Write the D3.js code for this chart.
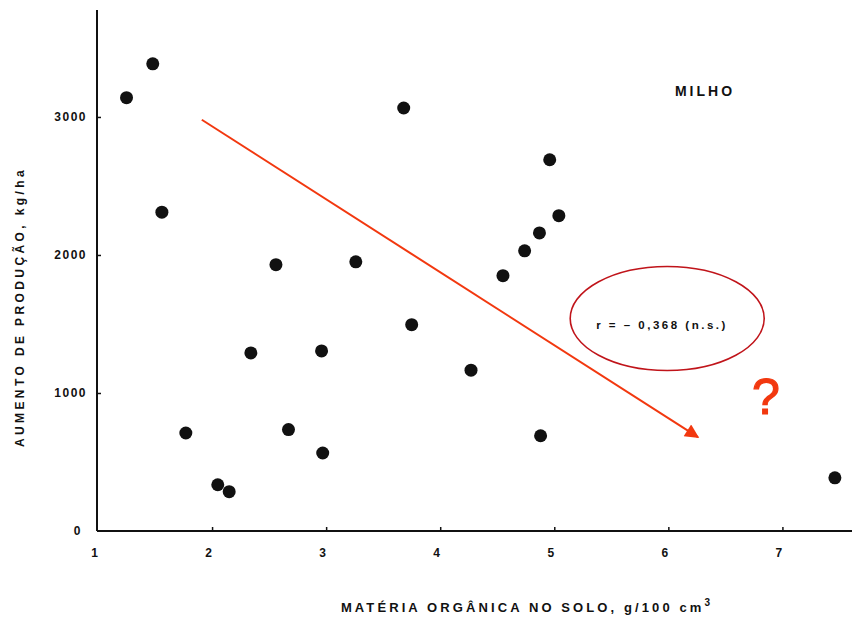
<!DOCTYPE html>
<html>
<head>
<meta charset="utf-8">
<script src="https://cdn.jsdelivr.net/npm/d3@7"></script>
<style>
  html, body { margin: 0; padding: 0; background: #fff; }
  svg { display: block; }
  text { font-family: "Liberation Sans", Arial, sans-serif; font-weight: bold; fill: #111; }
</style>
</head>
<body>
<svg id="chart" width="852" height="617"></svg>
<script>
// Organic matter in soil (g/100 cm3) vs. yield increase (kg/ha), maize
const materiaOrganica = [1.25, 1.48, 1.56, 1.77, 2.05, 2.15, 2.34, 2.56, 2.67, 2.96, 2.97, 3.26, 3.68, 3.75, 4.27, 4.55, 4.74, 4.87, 4.88, 4.96, 5.04, 7.46];
const aumentoProducao = [3140, 3385, 2310, 710, 335, 285, 1290, 1930, 735, 1305, 565, 1950, 3065, 1495, 1165, 1850, 2030, 2160, 690, 2690, 2285, 385];
const xTicks = [1, 2, 3, 4, 5, 6, 7];
const yTicks = [0, 1000, 2000, 3000];
// Trend arrow endpoints (x, y in data units)
const setaInicio = [1.91, 2980];
const setaFim = [6.26, 680];
// Annotation ellipse centre (data units)
const elipseCentro = [5.99, 1540];
const rotuloR = "r = \u2013 0,368 (n.s.)";

const svg = d3.select("#chart");
const x = d3.scaleLinear().domain([1, 7.61]).range([98, 852]);
const y = d3.scaleLinear().domain([0, 3775]).range([531, 10]);

// Axes
svg.append("line").attr("x1", 97).attr("x2", 97).attr("y1", y(3775)).attr("y2", y(0))
  .attr("stroke", "#111").attr("stroke-width", 2);
svg.append("line").attr("x1", 97).attr("x2", 852).attr("y1", y(0)).attr("y2", y(0))
  .attr("stroke", "#111").attr("stroke-width", 2);

const yAxis = d3.axisLeft(y).tickValues(yTicks).tickSize(-4).tickPadding(9).tickFormat(d3.format("d"));
const gy = svg.append("g").attr("transform", "translate(97,0)").call(yAxis);
gy.select(".domain").remove();
gy.selectAll(".tick line").attr("stroke", "#111").attr("stroke-width", 1.5)
  .attr("display", d => d === 0 ? "none" : null);
gy.selectAll(".tick text").attr("font-size", 12).attr("font-family", "Liberation Sans, Arial, sans-serif")
  .attr("font-weight", "bold").attr("fill", "#111").attr("letter-spacing", 1.5)
  .attr("dx", d => d === 0 ? -6 : -1);

const xAxis = d3.axisBottom(x).tickValues(xTicks).tickSize(-4).tickPadding(17).tickFormat(d3.format("d"));
const gx = svg.append("g").attr("transform", `translate(0,${y(0)})`).call(xAxis);
gx.select(".domain").remove();
gx.selectAll(".tick line").attr("stroke", "#111").attr("stroke-width", 1.5)
  .attr("display", d => d === 1 ? "none" : null);
gx.selectAll(".tick text").attr("font-size", 12).attr("font-family", "Liberation Sans, Arial, sans-serif")
  .attr("font-weight", "bold").attr("fill", "#111").attr("dx", -4);

// Axis titles
svg.append("text").attr("transform", "translate(24,307) rotate(-90)").attr("text-anchor", "middle")
  .attr("font-size", 12).attr("letter-spacing", 3.4).text("AUMENTO DE PRODUÇÃO, kg/ha");
const xt = svg.append("text").attr("x", 527).attr("y", 612).attr("text-anchor", "middle")
  .attr("font-size", 13).attr("letter-spacing", 3.1);
xt.append("tspan").text("MATÉRIA ORGÂNICA NO SOLO, g/100 cm");
xt.append("tspan").attr("dy", -6).attr("font-size", 10).text("3");

// Points
svg.append("g").selectAll("circle").data(materiaOrganica).join("circle")
  .attr("cx", d => x(d)).attr("cy", (d, i) => y(aumentoProducao[i]))
  .attr("r", 6.5).attr("fill", "#111");

// Crop label
svg.append("text").attr("x", 705).attr("y", 96).attr("text-anchor", "middle")
  .attr("font-size", 14).attr("letter-spacing", 3).text("MILHO");

// Trend arrow
const defs = svg.append("defs");
defs.append("marker").attr("id", "ponta").attr("viewBox", "0 0 10 10").attr("refX", 9).attr("refY", 5)
  .attr("markerWidth", 18).attr("markerHeight", 14).attr("markerUnits", "userSpaceOnUse")
  .attr("orient", "auto")
  .append("path").attr("d", "M0,0 L10,5 L0,10 Z").attr("fill", "#f2380f");
svg.append("line")
  .attr("x1", x(setaInicio[0])).attr("y1", y(setaInicio[1]))
  .attr("x2", x(setaFim[0])).attr("y2", y(setaFim[1]))
  .attr("stroke", "#f2380f").attr("stroke-width", 2).attr("marker-end", "url(#ponta)");

// Correlation annotation
svg.append("ellipse").attr("cx", x(elipseCentro[0])).attr("cy", y(elipseCentro[1]))
  .attr("rx", 97).attr("ry", 52).attr("fill", "none").attr("stroke", "#c0141a").attr("stroke-width", 1.6);
svg.append("text").attr("x", 662).attr("y", 329).attr("text-anchor", "middle")
  .attr("font-size", 11.5).attr("letter-spacing", 2.5).text(rotuloR);
svg.append("text").attr("x", 766).attr("y", 414).attr("text-anchor", "middle")
  .attr("font-size", 50).style("font-weight", "normal").style("fill", "#f2380f")
  .style("stroke", "#f2380f").style("stroke-width", 1.2).text("?");
</script>
</body>
</html>
